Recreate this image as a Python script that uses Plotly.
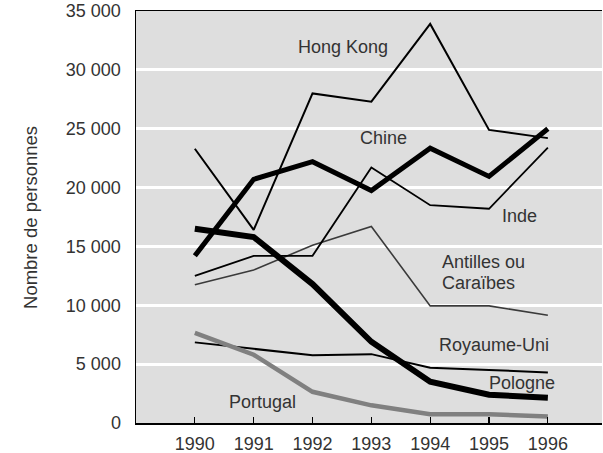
import plotly.graph_objects as go

years = [1990, 1991, 1992, 1993, 1994, 1995, 1996]
hong_kong = [23300, 16400, 28000, 27300, 33900, 24900, 24200]
chine = [14200, 20700, 22200, 19750, 23350, 20950, 25000]
inde = [12500, 14200, 14200, 21700, 18500, 18200, 23400]
antilles = [11750, 13000, 15100, 16700, 9950, 9950, 9150]
royaume_uni = [6850, 6300, 5750, 5850, 4700, 4500, 4300]
pologne = [16500, 15800, 11800, 6900, 3500, 2400, 2150]
portugal = [7650, 5800, 2650, 1500, 750, 750, 550]
y_ticks = [0, 5000, 10000, 15000, 20000, 25000, 30000, 35000]
y_tick_labels = ["0", "5 000", "10 000", "15 000", "20 000", "25 000", "30 000", "35 000"]

series = [
    ("Antilles ou Caraïbes", antilles, "#3a3a3a", 1.6),
    ("Royaume-Uni", royaume_uni, "#000000", 2),
    ("Inde", inde, "#000000", 1.8),
    ("Hong Kong", hong_kong, "#000000", 2),
    ("Portugal", portugal, "#808080", 4.5),
    ("Pologne", pologne, "#000000", 6),
    ("Chine", chine, "#000000", 5),
]

fig = go.Figure()
for name, vals, col, w in series:
    fig.add_trace(go.Scatter(x=years, y=vals, mode="lines", name=name,
                             line=dict(color=col, width=w), showlegend=False,
                             hoverinfo="skip"))

FONT = "Liberation Sans, Arial, sans-serif"
TXT = "#333333"

labels = [
    ("Hong Kong", 1992.51, 31940, "center"),
    ("Chine", 1993.21, 24210, "center"),
    ("Inde", 1995.51, 17585, "center"),
    ("Antilles ou", 1994.17, 13700, "left"),
    ("Caraïbes", 1994.17, 11870, "left"),
    ("Royaume-Uni", 1994.11, 6626, "left"),
    ("Pologne", 1994.96, 3398, "left"),
    ("Portugal", 1990.54, 1809, "left"),
]
for t, x, y, xa in labels:
    fig.add_annotation(x=x, y=y, text=t, showarrow=False, xanchor=xa, yanchor="middle",
                       font=dict(family=FONT, size=18, color=TXT))

fig.add_annotation(xref="paper", yref="paper", x=-0.2275, y=0.5, text="Nombre de personnes",
                   textangle=-90, showarrow=False, xanchor="center", yanchor="middle",
                   font=dict(family=FONT, size=18.5, color=TXT))

fig.update_layout(
    width=603, height=453,
    margin=dict(l=136, r=1, t=11, b=30),
    paper_bgcolor="white",
    plot_bgcolor="#dedede",
    font=dict(family=FONT, size=18, color=TXT),
    xaxis=dict(range=[1989, 1996.92], tickvals=years, ticktext=[str(y) for y in years],
               ticks="inside", ticklen=6, tickwidth=1.2, tickcolor="black",
               showline=True, linecolor="black", linewidth=1.5, mirror=True,
               showgrid=False, zeroline=False, automargin=False, ticklabelstandoff=4),
    yaxis=dict(range=[0, 35000], tickvals=y_ticks, ticktext=y_tick_labels,
               ticks="outside", ticklen=10, tickcolor="rgba(0,0,0,0)",
               showline=True, linecolor="black", linewidth=1.5,
               showgrid=True, gridcolor="white", gridwidth=3, zeroline=False,
               automargin=False),
)

fig.write_html("out.html", config={"displayModeBar": False, "staticPlot": True},
               post_script="document.body.style.margin='0';document.body.style.overflow='hidden';")
